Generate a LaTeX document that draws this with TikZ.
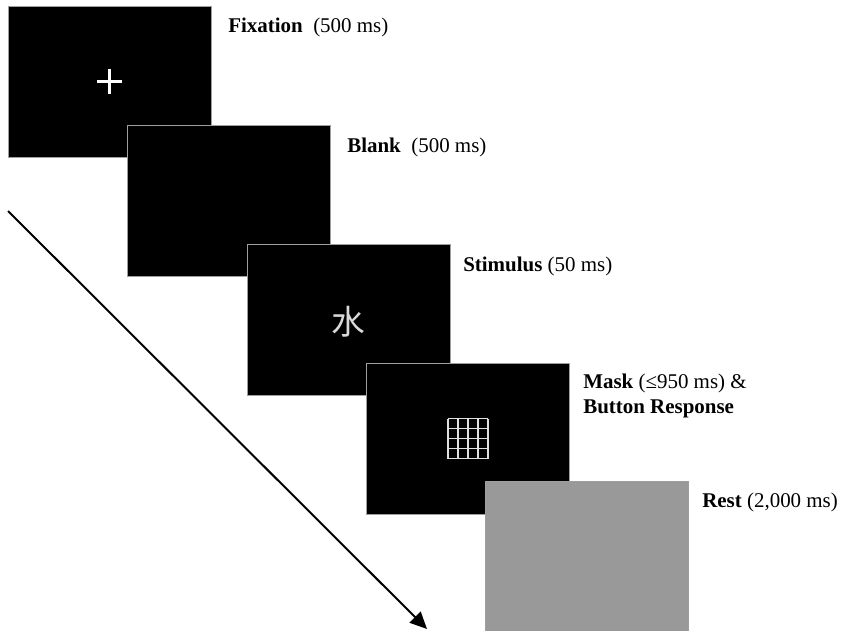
\documentclass[tikz,border=0pt]{standalone}
\usepackage{fontspec}
\setmainfont{Liberation Serif}
\newfontfamily\cjk{Noto Sans CJK SC}
\usetikzlibrary{arrows.meta, positioning, calc}
\definecolor{restgray}{gray}{0.6}
\definecolor{rimgray}{gray}{0.62}

\begin{document}
\begin{tikzpicture}[x=0.025cm, y=-0.025cm]
    \tikzstyle{screen} = [rectangle, draw=rimgray, line width=0.6pt, fill=black, minimum width=5.075cm, minimum height=3.775cm, inner sep=0pt]
    \tikzstyle{phase} = [anchor=base west, inner sep=0pt, font=\fontsize{14.9}{17.8}\selectfont]
    \tikzstyle{meshline} = [draw=white!88!black, line width=1pt]

    \useasboundingbox (0,0) rectangle (843,631);

    \foreach \i/\name in {0/fix, 1/blank, 2/stim, 3/mask}
        \node[screen] (\name) at (109.5+119.5*\i, 81.5+119*\i) {};
    \node[screen, fill=restgray] (rest) at (587, 556.5) {};

    \draw[white, line width=1.5pt] ($(fix.center)+(-12.5,0)$) -- ($(fix.center)+(12.5,0)$);
    \draw[white, line width=1.5pt] ($(fix.center)+(0,-12.5)$) -- ($(fix.center)+(0,12.5)$);

    \node[text=white!85!black, font=\cjk\fontsize{24}{24}\selectfont] (shui) at (348,322) {水};

    \foreach \k in {0,...,4} {
        \draw[meshline] ($(mask.center)+(-20+10*\k,-20)$) -- ($(mask.center)+(-20+10*\k,20)$);
        \draw[meshline] ($(mask.center)+(-20,-20+10*\k)$) -- ($(mask.center)+(20,-20+10*\k)$);
    }

    \node[phase] (fixlbl) at (228,32) {\textbf{Fixation}\ \ (500 ms)};
    \node[phase] (blanklbl) at (347,152) {\textbf{Blank}\ \ (500 ms)};
    \node[phase] (stimlbl) at (463,271) {\textbf{Stimulus} (50 ms)};
    \node[phase] (masklbl) at (583,388) {\textbf{Mask} (≤950 ms) \&};
    \node[phase] (resplbl) at (583,413) {\textbf{Button Response}};
    \node[phase] (restlbl) at (702,507) {\textbf{Rest} (2,000 ms)};

    \coordinate (tstart) at (8,211);
    \coordinate (tend) at (427,629);
    \draw[line width=1.4pt, -{Triangle[length=12pt, width=11pt]}] (tstart) -- (tend);

\end{tikzpicture}
\end{document}
